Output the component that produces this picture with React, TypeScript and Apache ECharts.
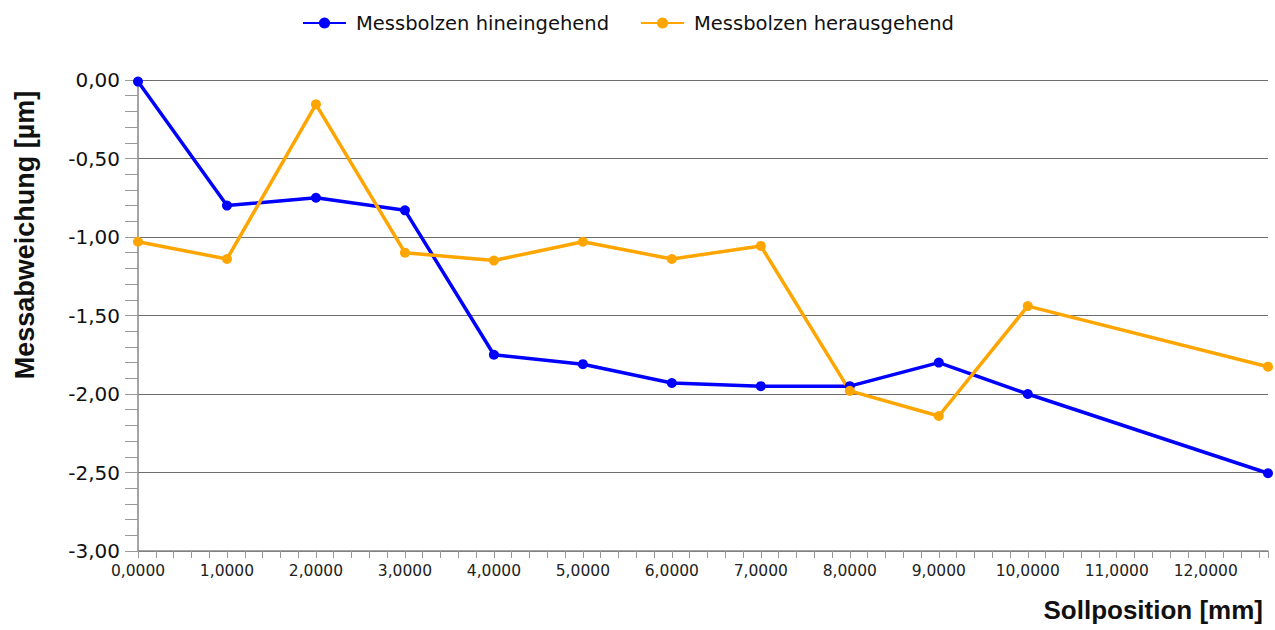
import React, { useEffect, useRef } from "react";
import * as echarts from "echarts";

const positions = [0, 1, 2, 3, 4, 5, 6, 7, 8, 9, 10, 12.7];
const hineingehend = [-0.01, -0.8, -0.75, -0.83, -1.75, -1.81, -1.93, -1.95, -1.95, -1.8, -2.0, -2.505];
const herausgehend = [-1.03, -1.14, -0.155, -1.1, -1.15, -1.03, -1.14, -1.057, -1.98, -2.14, -1.44, -1.826];
const seriesNames = ["Messbolzen hineingehend", "Messbolzen herausgehend"];
const xTitle = "Sollposition [mm]";
const yTitle = "Messabweichung [µm]";

export default function App() {
  const ref = useRef<HTMLDivElement>(null);
  useEffect(() => {
    if (!ref.current) return;
    const chart = echarts.init(ref.current, null, { renderer: "svg" });
    const pair = (ys: number[]) => positions.map((x, i) => [x, ys[i]]);
    chart.setOption({
      animation: false,
      backgroundColor: "#ffffff",
      legend: {
        top: 8,
        left: 297,
        itemWidth: 43,
        itemHeight: 14,
        itemGap: 31,
        textStyle: {
          fontFamily: "DejaVu Sans",
          fontSize: 19.5,
          color: "#111",
          padding: [0, 0, 0, 5],
        },
        data: seriesNames,
      },
      grid: { left: 138, right: 7, top: 80, bottom: 79 },
      xAxis: {
        type: "value",
        min: 0,
        max: 12.7,
        interval: 1,
        axisLine: { show: true, onZero: false, lineStyle: { color: "#888", width: 1.5 } },
        axisTick: { show: true, length: 7, lineStyle: { color: "#999" } },
        minorTick: { show: true, splitNumber: 5, length: 7, lineStyle: { color: "#999" } },
        splitLine: { show: false },
        axisLabel: {
          showMaxLabel: false,
          margin: 12,
          fontFamily: "DejaVu Sans",
          fontSize: 15.5,
          color: "#222",
          formatter: (v: number) => v.toFixed(4).replace(".", ","),
        },
      },
      yAxis: {
        type: "value",
        min: -3,
        max: 0,
        interval: 0.5,
        axisLine: { show: true, lineStyle: { color: "#888", width: 1.5 } },
        axisTick: { show: true, length: 13, lineStyle: { color: "#999" } },
        minorTick: { show: true, splitNumber: 5, length: 13, lineStyle: { color: "#999" } },
        splitLine: { show: true, lineStyle: { color: "#6e6e6e", width: 1 } },
        axisLabel: {
          margin: 18,
          fontFamily: "DejaVu Sans",
          fontSize: 20,
          color: "#111",
          formatter: (v: number) => v.toFixed(2).replace(".", ","),
        },
      },
      graphic: [
        {
          type: "text",
          right: 12,
          top: 597,
          style: {
            text: xTitle,
            font: "bold 26px 'Liberation Sans', Arial, sans-serif",
            fill: "#111",
          },
        },
        {
          type: "text",
          x: 25,
          y: 235,
          rotation: Math.PI / 2,
          style: {
            text: yTitle,
            font: "bold 27px 'Liberation Sans', Arial, sans-serif",
            fill: "#111",
            align: "center",
            verticalAlign: "middle",
          },
          originX: 0,
          originY: 0,
        },
      ],
      series: [
        {
          name: seriesNames[0],
          type: "line",
          data: pair(hineingehend),
          symbol: "circle",
          symbolSize: 10,
          itemStyle: { color: "#0000ff" },
          lineStyle: { color: "#0000ff", width: 3.5 },
        },
        {
          name: seriesNames[1],
          type: "line",
          data: pair(herausgehend),
          symbol: "circle",
          symbolSize: 10,
          itemStyle: { color: "#ffa500" },
          lineStyle: { color: "#ffa500", width: 3.5 },
        },
      ],
    });
    return () => chart.dispose();
  }, []);
  return (
    <div
      ref={ref}
      style={{ position: "fixed", left: 0, top: 0, width: 1275, height: 630 }}
    />
  );
}
